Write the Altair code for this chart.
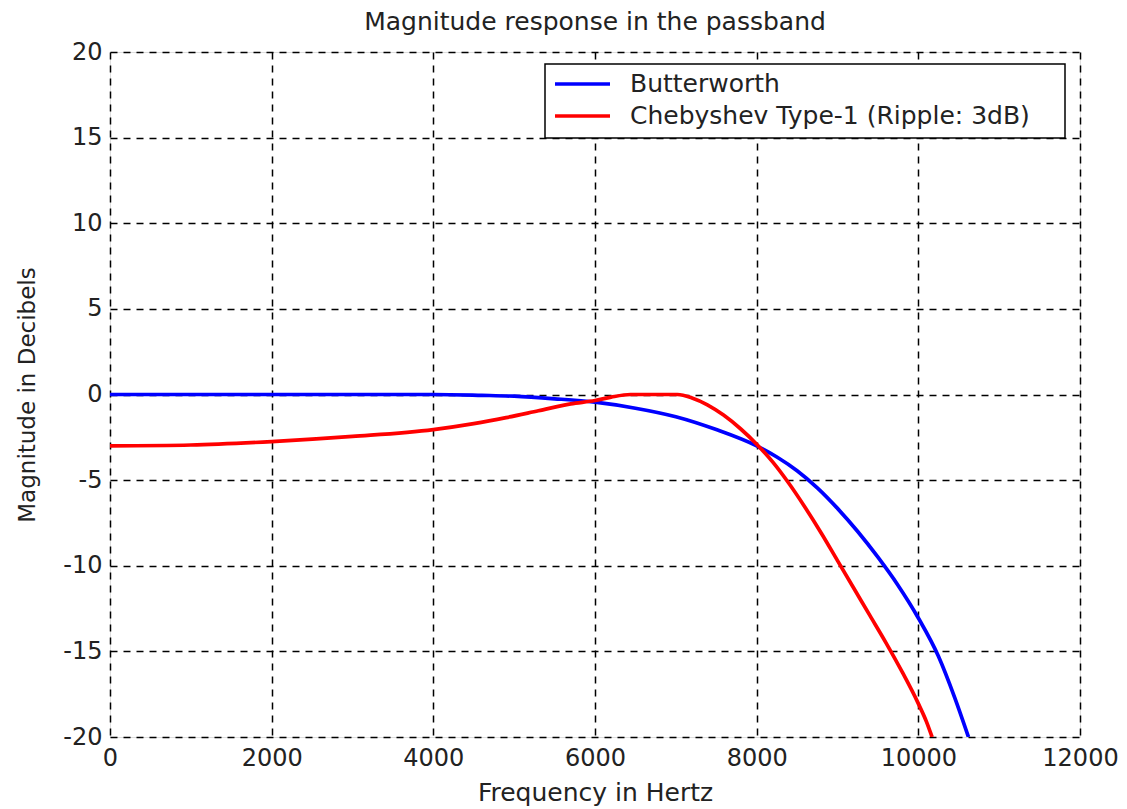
import altair as alt
import pandas as pd

# Butterworth magnitude (dB)
butter_f = [0, 1000, 2000, 3000, 4000, 4600, 5000, 5500, 6000, 6500, 7000, 7500,
            8000, 8250, 8500, 8750, 9000, 9250, 9500, 9750, 10000, 10250, 10450, 10620]
butter_db = [0, 0, 0, 0, 0, -0.05, -0.1, -0.25, -0.45, -0.8, -1.3, -2.05,
             -3.0, -3.65, -4.45, -5.45, -6.65, -8.0, -9.5, -11.15, -13.05, -15.3,
             -17.7, -20]

# Chebyshev Type-1 magnitude (dB)
cheby_f = [0, 1000, 2000, 3000, 4000, 4500, 4900, 5300, 5700, 6000, 6200, 6440,
           6700, 7020, 7200, 7390, 7590, 7800, 8000, 8200, 8400, 8600, 8800, 9000,
           9200, 9400, 9600, 9800, 10000, 10100, 10170]
cheby_db = [-3.0, -2.95, -2.75, -2.45, -2.05, -1.7, -1.35, -0.95, -0.55, -0.35,
            -0.15, 0, 0, 0, -0.2, -0.6, -1.2, -2.0, -2.9, -3.95, -5.2, -6.6,
            -8.1, -9.7, -11.3, -12.9, -14.5, -16.2, -18.05, -19.1, -20]

series_names = ["Butterworth", "Chebyshev Type-1 (Ripple: 3dB)"]
series_colors = ["#0000ff", "#ff0000"]

x_ticks = [0, 2000, 4000, 6000, 8000, 10000, 12000]
y_ticks = [-20, -15, -10, -5, 0, 5, 10, 15, 20]

FONT = "DejaVu Sans"
W, H = 970, 685

df = pd.concat([
    pd.DataFrame({"f": butter_f, "db": butter_db, "series": series_names[0], "order": range(len(butter_f))}),
    pd.DataFrame({"f": cheby_f, "db": cheby_db, "series": series_names[1], "order": range(len(cheby_f))}),
])

axis_common = dict(
    labelFontSize=24, ticks=False, domain=False,
    gridDash=[7, 6], gridColor="black", gridOpacity=1, gridWidth=1.5,
    labelColor="#222", titleColor="#222", labelFont=FONT, titleFont=FONT,
    titleFontWeight="normal", labelFlush=False, labelExpr="'' + datum.value",
)

lines = alt.Chart(df).mark_line(strokeWidth=3.7, clip=True, interpolate="monotone").encode(
    x=alt.X("f:Q", scale=alt.Scale(domain=[0, 12000], nice=False, zero=False),
            axis=alt.Axis(values=x_ticks, title="Frequency in Hertz", titleFontSize=25,
                          labelPadding=9, titlePadding=10, **axis_common)),
    y=alt.Y("db:Q", scale=alt.Scale(domain=[-20, 20], nice=False, zero=False),
            axis=alt.Axis(values=y_ticks, title="Magnitude in Decibels", titleFontSize=23,
                          labelPadding=8, titlePadding=23, **axis_common)),
    color=alt.Color("series:N", scale=alt.Scale(domain=series_names, range=series_colors), legend=None),
    order="order:Q",
)

# manual legend (MATLAB style box)
box = alt.Chart(pd.DataFrame({"a": [0]})).mark_rect(
    fill="white", stroke="black", strokeWidth=1.5
).encode(x=alt.value(435), x2=alt.value(955), y=alt.value(12), y2=alt.value(86))

legend_layers = [box]
for i, (name, col) in enumerate(zip(series_names, series_colors)):
    yy = 32 + 32 * i
    legend_layers.append(
        alt.Chart(pd.DataFrame({"name": [name]})).mark_rule(color=col, strokeWidth=3.7).encode(
            x=alt.value(445), x2=alt.value(500), y=alt.value(yy))
    )
    legend_layers.append(
        alt.Chart(pd.DataFrame({"name": [name]})).mark_text(
            align="left", baseline="middle", fontSize=25, font=FONT, color="#222"
        ).encode(x=alt.value(520), y=alt.value(yy), text="name:N")
    )

chart = alt.layer(lines, *legend_layers).properties(
    width=W, height=H,
    title=alt.TitleParams("Magnitude response in the passband", fontSize=25, font=FONT,
                          fontWeight="normal", color="#222", offset=5),
    autosize=alt.AutoSizeParams(type="none"),
    padding={"left": 110, "top": 52, "right": 47, "bottom": 72},
).configure_view(stroke="black", strokeWidth=1.5).configure(background="white")

chart.save("out.html", embed_options={"renderer": "svg", "actions": False})
